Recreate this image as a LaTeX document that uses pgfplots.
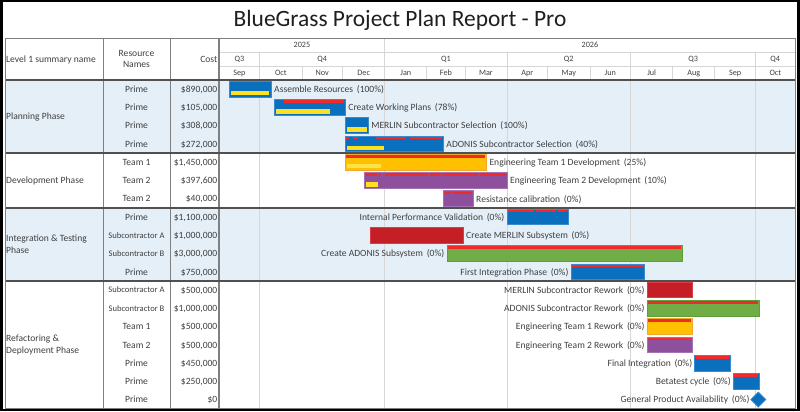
\documentclass[border=0pt]{standalone}
\usepackage{pgfplots}
\pgfplotsset{compat=1.18}
\usepackage{fontspec}
\setmainfont{Carlito}
\definecolor{txt}{HTML}{404040}
\definecolor{titlecol}{HTML}{1F1F1F}
\definecolor{bgblue}{HTML}{E4EFF8}
\definecolor{gridgray}{HTML}{D6D6D6}
\definecolor{colline}{HTML}{808080}
\definecolor{darkline}{HTML}{505050}
\definecolor{blueF}{HTML}{0A70BE}
\definecolor{blueB}{HTML}{3A8AD2}
\definecolor{progY}{HTML}{FFE01F}
\definecolor{teamY}{HTML}{FFC000}
\definecolor{teamYB}{HTML}{F0A830}
\definecolor{progL}{HTML}{FFE24A}
\definecolor{purF}{HTML}{8E4F9D}
\definecolor{purB}{HTML}{A672B6}
\definecolor{redF}{HTML}{C41E26}
\definecolor{redB}{HTML}{DE3C44}
\definecolor{grnF}{HTML}{70AD47}
\definecolor{grnB}{HTML}{5E9E3B}
\definecolor{critred}{HTML}{EE2A2A}
\newcommand\fs{\fontsize{9.6}{11.5}\selectfont}
\newcommand\fsm{\fontsize{8.2}{10}\selectfont}
\newcommand\fssub{\fontsize{8.6}{10}\selectfont}
\tikzset{
  lblR/.style={anchor=base west,inner sep=0,xshift=3bp,yshift=-3.3bp,font=\fs,text=txt},
  lblL/.style={anchor=base east,inner sep=0,xshift=-2.5bp,yshift=-3.3bp,font=\fs,text=txt},
}
% task bar: row, start, end, fill, border
\newcommand\bartask[5]{\addplot[fill=#4,draw=#5,line width=0.8bp] coordinates {(#2,#1.07) (#3,#1.07) (#3,#1.93) (#2,#1.93)} -- cycle;}
% critical strip: row, start, end
\newcommand\crit[3]{\addplot[fill=critred,draw=none] coordinates {(#2,#1.11) (#3,#1.11) (#3,#1.25) (#2,#1.25)} -- cycle;}
% progress: row, start, end, colour
\newcommand\prog[4]{\addplot[fill=#4,draw=none] coordinates {(#2,#1.60) (#3,#1.60) (#3,#1.84) (#2,#1.84)} -- cycle;}
\newcommand\rowtxt[3]{\node[anchor=base,inner sep=0,font=\fs,text=txt] at (136.5,{80+(#1+0.5)*18.26+3.3}) {#2};
  \node[anchor=base east,inner sep=0,font=\fs,text=txt] at (217.5,{80+(#1+0.5)*18.26+3.3}) {#3};}
\newcommand\rowtxtS[3]{\node[anchor=base,inner sep=0,font=\fssub,text=txt] at (136.5,{80+(#1+0.5)*18.26+3.0}) {#2};
  \node[anchor=base east,inner sep=0,font=\fs,text=txt] at (217.5,{80+(#1+0.5)*18.26+3.3}) {#3};}
\begin{document}
\begin{tikzpicture}
\begin{scope}[x=1bp,y=-1bp]
\useasboundingbox (0,0) rectangle (800,411);
\fill[black] (0,0) rectangle (800,411);
\fill[white] (3,1.5) rectangle (797,408.5);
\fill[bgblue] (5,80) rectangle (795,153.04);
\fill[bgblue] (5,207.82) rectangle (795,280.86);
% title
\node[anchor=base,inner sep=0,font=\fontsize{23.5}{28}\selectfont,text=titlecol] at (400,26) {BlueGrass Project Plan Report - Pro};
% header grid
\draw[gridgray,line width=0.8bp] (219,52)--(795,52) (219,66)--(795,66);
\draw[gridgray,line width=0.8bp] (384.7,38)--(384.7,80);
\foreach \q in {259.8,507,630.6,755.6} \draw[gridgray,line width=0.8bp] (\q,52)--(\q,80);
\foreach \m in {301.9,342.6,426.8,464.9,547.8,589.9,672.6,714.8} \draw[gridgray,line width=0.8bp] (\m,66)--(\m,80);
% data grid (quarters)
\foreach \q in {259.8,384.7,507,630.6,755.6} \draw[gridgray,line width=0.8bp] (\q,80)--(\q,408.7);
% header texts
\node[anchor=base,inner sep=0,font=\fsm,text=txt] at (301.9,47.7) {2025};
\node[anchor=base,inner sep=0,font=\fsm,text=txt] at (589.9,47.7) {2026};
\foreach \x/\l in {239.4/Q3,322.2/Q4,445.9/Q1,568.8/Q2,693.1/Q3,775.3/Q4}
  \node[anchor=base,inner sep=0,font=\fsm,text=txt] at (\x,61.7) {\l};
\foreach \x/\l in {239.4/Sep,280.8/Oct,322.2/Nov,363.7/Dec,405.8/Jan,445.9/Feb,485.9/Mar,527.4/Apr,568.8/May,610.3/Jun,651.7/Jul,693.8/Aug,735.2/Sep,775.3/Oct}
  \node[anchor=base,inner sep=0,font=\fsm,text=txt] at (\x,75.2) {\l};
\node[anchor=base west,inner sep=0,font=\fs,text=txt] at (6,62.3) {Level 1 summary name};
\node[anchor=base,inner sep=0,font=\fs,text=txt] at (136.5,56) {Resource};
\node[anchor=base,inner sep=0,font=\fs,text=txt] at (136.5,67.6) {Names};
\node[anchor=base east,inner sep=0,font=\fs,text=txt] at (217.5,62.3) {Cost};
% group labels
\node[anchor=base west,inner sep=0,font=\fs,text=txt] at (6,119.8) {Planning Phase};
\node[anchor=base west,inner sep=0,font=\fs,text=txt] at (6,183.7) {Development Phase};
\node[anchor=base west,inner sep=0,font=\fs,text=txt] at (6,241.8) {Integration \& Testing};
\node[anchor=base west,inner sep=0,font=\fs,text=txt] at (6,253.3) {Phase};
\node[anchor=base west,inner sep=0,font=\fs,text=txt] at (6,341.8) {Refactoring \&};
\node[anchor=base west,inner sep=0,font=\fs,text=txt] at (6,353.3) {Deployment Phase};
% rows
\rowtxt{0}{Prime}{\$890,000}
\rowtxt{1}{Prime}{\$105,000}
\rowtxt{2}{Prime}{\$308,000}
\rowtxt{3}{Prime}{\$272,000}
\rowtxt{4}{Team 1}{\$1,450,000}
\rowtxt{5}{Team 2}{\$397,600}
\rowtxt{6}{Team 2}{\$40,000}
\rowtxt{7}{Prime}{\$1,100,000}
\rowtxtS{8}{Subcontractor A}{\$1,000,000}
\rowtxtS{9}{Subcontractor B}{\$3,000,000}
\rowtxt{10}{Prime}{\$750,000}
\rowtxtS{11}{Subcontractor A}{\$500,000}
\rowtxtS{12}{Subcontractor B}{\$1,000,000}
\rowtxt{13}{Team 1}{\$500,000}
\rowtxt{14}{Team 2}{\$500,000}
\rowtxt{15}{Prime}{\$450,000}
\rowtxt{16}{Prime}{\$250,000}
\rowtxt{17}{Prime}{\$0}
% table lines
\draw[colline,line width=0.9bp] (103,38)--(103,408.7) (170,38)--(170,408.7);
\draw[colline,line width=1.7bp] (219,38)--(219,408.7);
\draw[darkline,line width=1.7bp] (5,80)--(795,80);
\foreach \g in {153.04,207.82,280.86} \draw[darkline,line width=1.5bp] (5,\g)--(795,\g);
\draw[colline,line width=0.9bp] (5,38) rectangle (795,408.7);
\end{scope}
\begin{axis}[
  at={(219bp,-408.7bp)}, anchor=south west,
  scale only axis, width=576bp, height=328.7bp,
  xmin=0, xmax=424, ymin=0, ymax=18, y dir=reverse,
  hide axis, clip=false,
]
% row 0
\bartask{0}{7.4}{38.3}{blueF}{blueB}
\prog{0}{8.6}{37.1}{progY}
% row 1
\bartask{1}{40.5}{92.9}{blueF}{blueB}
\prog{1}{41.7}{81.4}{progY}
\crit{1}{47.7}{92.0}
% row 2
\bartask{2}{92.9}{109.8}{blueF}{blueB}
\prog{2}{94.1}{108.6}{progY}
% row 3
\bartask{3}{92.9}{165.1}{blueF}{blueB}
\prog{3}{94.1}{121.8}{progY}
\crit{3}{93.6}{95.4}\crit{3}{98.3}{102}\crit{3}{115.4}{137.3}\crit{3}{140.5}{164.3}
% row 4
\bartask{4}{92.9}{196.8}{teamY}{teamYB}
\prog{4}{94.1}{118.9}{progL}
\crit{4}{93.6}{196.1}
% row 5
\bartask{5}{106.9}{212}{purF}{purB}
\prog{5}{108.1}{117.4}{progY}
\crit{5}{107.6}{116.1}\crit{5}{117.9}{119.4}\crit{5}{122.2}{153.8}\crit{5}{155.3}{163.4}\crit{5}{164.9}{190.7}\crit{5}{192.1}{211.3}
% row 6
\bartask{6}{164.9}{187}{purF}{purB}
\crit{6}{165.6}{170}\crit{6}{171.3}{186.3}
% row 7
\bartask{7}{212}{257}{blueF}{blueB}
\crit{7}{212.7}{231.9}\crit{7}{233.1}{248}\crit{7}{249.3}{256.3}
% row 8
\bartask{8}{111.8}{179.6}{redF}{redB}
% row 9
\bartask{9}{167.8}{341}{grnF}{grnB}
\crit{9}{168.5}{340.3}
% row 10
\bartask{10}{259.2}{313.2}{blueF}{blueB}
\crit{10}{259.9}{312.5}
% row 11
\bartask{11}{315.2}{348.4}{redF}{redB}
% row 12
\bartask{12}{315.2}{397.6}{grnF}{grnB}
\crit{12}{315.9}{396.9}
% row 13
\bartask{13}{315.2}{348.4}{teamY}{teamYB}
\crit{13}{315.9}{347.7}
% row 14
\bartask{14}{315.2}{348.4}{purF}{purB}
\crit{14}{315.9}{347.7}
% row 15
\bartask{15}{350.3}{376.1}{blueF}{blueB}
\crit{15}{351}{375.4}
% row 16
\bartask{16}{378.6}{397.6}{blueF}{blueB}
\crit{16}{379.3}{396.9}
% row 17 milestone
\addplot[only marks, mark=square*, mark size=5.3bp, mark options={rotate=45, fill=blueF, draw=blueB, line width=0.8bp}] coordinates {(397,17.5)};
% labels
\node[lblR] at (axis cs:38.3,0.5) {Assemble Resources\,\ (100\%)};
\node[lblR] at (axis cs:92.9,1.5) {Create Working Plans\,\ (78\%)};
\node[lblR] at (axis cs:109.8,2.5) {MERLIN Subcontractor Selection\,\ (100\%)};
\node[lblR] at (axis cs:165.1,3.5) {ADONIS Subcontractor Selection\,\ (40\%)};
\node[lblR] at (axis cs:196.8,4.5) {Engineering Team 1 Development\,\ (25\%)};
\node[lblR] at (axis cs:212,5.5) {Engineering Team 2 Development\,\ (10\%)};
\node[lblR] at (axis cs:187,6.5) {Resistance calibration\,\ (0\%)};
\node[lblL] at (axis cs:212,7.5) {Internal Performance Validation\,\ (0\%)};
\node[lblR] at (axis cs:179.6,8.5) {Create MERLIN Subsystem\,\ (0\%)};
\node[lblL] at (axis cs:167.8,9.5) {Create ADONIS Subsystem\,\ (0\%)};
\node[lblL] at (axis cs:259.2,10.5) {First Integration Phase\,\ (0\%)};
\node[lblL] at (axis cs:315.2,11.5) {MERLIN Subcontractor Rework\,\ (0\%)};
\node[lblL] at (axis cs:315.2,12.5) {ADONIS Subcontractor Rework\,\ (0\%)};
\node[lblL] at (axis cs:315.2,13.5) {Engineering Team 1 Rework\,\ (0\%)};
\node[lblL] at (axis cs:315.2,14.5) {Engineering Team 2 Rework\,\ (0\%)};
\node[lblL] at (axis cs:350.3,15.5) {Final Integration\,\ (0\%)};
\node[lblL] at (axis cs:378.6,16.5) {Betatest cycle\,\ (0\%)};
\node[lblL,xshift=-6.2bp] at (axis cs:397,17.5) {General Product Availability\,\ (0\%)};
\end{axis}
\end{tikzpicture}
\end{document}
